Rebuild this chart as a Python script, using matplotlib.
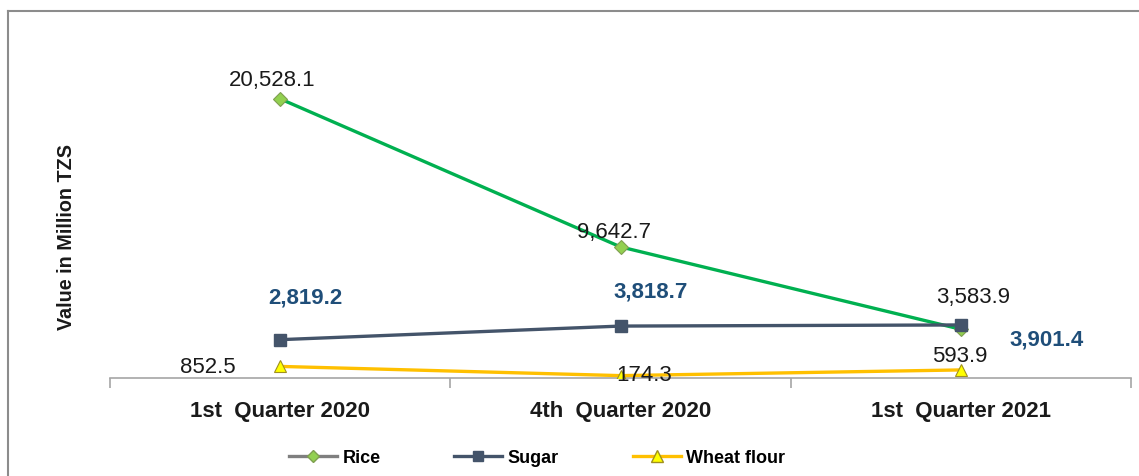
import matplotlib
matplotlib.use("Agg")
import matplotlib.pyplot as plt
from matplotlib.lines import Line2D

plt.rcParams['font.family'] = ['Liberation Sans', 'DejaVu Sans']

categories = ["1st  Quarter 2020", "4th  Quarter 2020", "1st  Quarter 2021"]
rice = [20528.1, 9642.7, 3583.9]
sugar = [2819.2, 3818.7, 3901.4]
wheat_flour = [852.5, 174.3, 593.9]

rice_offsets = [(-8, 19), (-6, 15), (12, 33)]
sugar_offsets = [(25, 43), (30, 35), (86, -14)]
wheat_offsets = [(-72, 0), (24, 1), (-1, 14)]

W, H = 1139, 477
fig = plt.figure(figsize=(W / 100, H / 100), dpi=100)
ax = fig.add_axes([110 / W, 1 - 379 / H, (1131 - 110) / W, (379 - 20) / H])

x = list(range(len(categories)))

ax.plot(x, rice, color="#00B050", lw=2.4, marker="D", markersize=7,
        markerfacecolor="#92D050", markeredgecolor="#7F9F50", markeredgewidth=0.8, zorder=3)
ax.plot(x, sugar, color="#44546A", lw=2.4, marker="s", markersize=8,
        markerfacecolor="#44546A", markeredgecolor="#44546A", zorder=4)
ax.plot(x, wheat_flour, color="#FFC000", lw=2.4, marker="^", markersize=9,
        markerfacecolor="#FFFF00", markeredgecolor="#A09020", markeredgewidth=0.8, zorder=5)

fs = 16
for i, v in enumerate(rice):
    ax.annotate(f"{v:,.1f}", (i, v), xytext=rice_offsets[i], textcoords="offset pixels",
                ha="center", va="center", fontsize=fs, color="#1A1A1A")
for i, v in enumerate(sugar):
    ax.annotate(f"{v:,.1f}", (i, v), xytext=sugar_offsets[i], textcoords="offset pixels",
                ha="center", va="center", fontsize=fs, color="#1F4E79", fontweight="bold")
for i, v in enumerate(wheat_flour):
    ax.annotate(f"{v:,.1f}", (i, v), xytext=wheat_offsets[i], textcoords="offset pixels",
                ha="center", va="center", fontsize=fs, color="#1A1A1A", zorder=6)

ax.set_xlim(-0.5, len(categories) - 0.5)
ax.set_ylim(0, 26400)
ax.set_yticks([])
for s in ["left", "right", "top"]:
    ax.spines[s].set_visible(False)
ax.spines["bottom"].set_color("#A6A6A6")
ax.spines["bottom"].set_linewidth(1.2)

ax.set_xticks(x)
ax.set_xticklabels(categories, fontsize=16, fontweight="bold", color="#1A1A1A")
ax.tick_params(axis="x", which="major", length=0, pad=15.5)
ax.set_xticks([i - 0.5 for i in range(len(categories) + 1)], minor=True)
ax.tick_params(axis="x", which="minor", length=7, width=1.2, color="#A6A6A6", direction="out")

fig.text(66 / W, 1 - 237 / H, "Value in Million TZS", rotation=90, ha="center", va="center",
         fontsize=14.2, fontweight="bold", color="#1A1A1A")

handles = [
    Line2D([], [], color="#7F7F7F", lw=2.4, marker="D", markersize=6,
           markerfacecolor="#92D050", markeredgecolor="#7F9F50"),
    Line2D([], [], color="#44546A", lw=2.4, marker="s", markersize=7,
           markerfacecolor="#44546A", markeredgecolor="#44546A"),
    Line2D([], [], color="#FFC000", lw=2.4, marker="^", markersize=8,
           markerfacecolor="#FFFF00", markeredgecolor="#A09020"),
]
fig.legend(handles, ["Rice", "Sugar", "Wheat flour"], loc="center",
           bbox_to_anchor=(537 / W, 1 - 459 / H), ncol=3, frameon=False,
           prop={"size": 13, "weight": "bold"}, handlelength=2.66,
           handletextpad=0.28, columnspacing=4.1)

# outer chart frame (clipped on right/bottom)
fig.add_artist(Line2D([8 / W, 1.0], [1 - 12 / H, 1 - 12 / H], color="#8C8C8C", lw=1.5,
                      transform=fig.transFigure))
fig.add_artist(Line2D([8 / W, 8 / W], [0, 1 - 12 / H], color="#8C8C8C", lw=1.5,
                      transform=fig.transFigure))

fig.savefig("out.png", dpi=100, facecolor="white")
